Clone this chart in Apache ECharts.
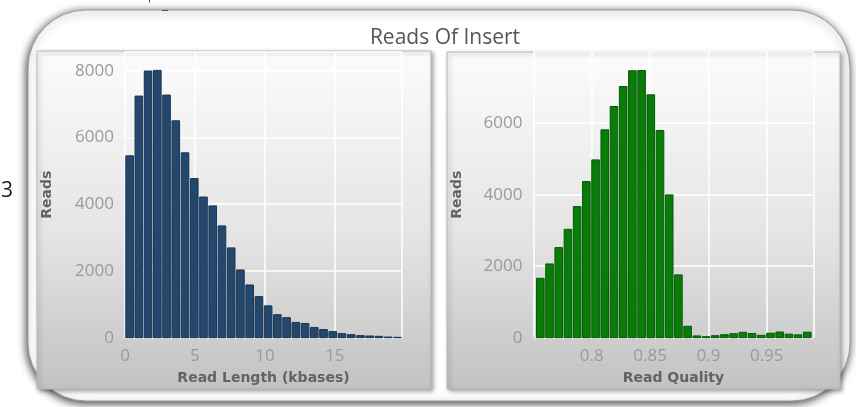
<!DOCTYPE html>
<html>
<head>
<meta charset="utf-8">
<script src="https://cdn.jsdelivr.net/npm/echarts@6/dist/echarts.min.js"></script>
<style>
html,body{margin:0;padding:0;background:#fff;}
#c{width:856px;height:407px;}
</style>
</head>
<body>
<div id="c"></div>
<script>
// ---- data ----
const chartTitle = 'Reads Of Insert';
const lengthAxisName = 'Read Length (kbases)';
const qualityAxisName = 'Read Quality';
const yAxisName = 'Reads';
const lengthStart = 0;
const lengthBinWidth = 0.66;
const lengthCounts = [5450, 7240, 7990, 8010, 7270, 6500, 5540, 4770, 4215, 3950,
                      3350, 2690, 2030, 1580, 1230, 955, 690, 600, 457, 426,
                      305, 244, 183, 122, 91, 61, 51, 41, 20, 10];
const qualityStart = 0.752;
const qualityBinWidth = 0.00789;
const qualityCounts = [1661, 2063, 2520, 3033, 3668, 4368, 4974, 5814, 6468, 7027,
                       7466, 7475, 6794, 5796, 3994, 1757, 320, 50, 28, 56,
                       84, 112, 150, 115, 65, 125, 159, 100, 80, 155];
const lengthTicks = [0, 5, 10, 15];
const qualityTicks = [0.8, 0.85, 0.9, 0.95];
const readsTicks = [0, 2000, 4000, 6000, 8000];

// ---- build ----
function bins(start, width, counts) {
  return counts.map((v, i) => [start + i * width, start + (i + 1) * width, v]);
}
function renderer(fill, stroke) {
  return function (params, api) {
    const a = api.coord([api.value(0), api.value(2)]);
    const b = api.coord([api.value(1), 0]);
    return {
      type: 'rect',
      shape: { x: a[0] + 0.8, y: a[1], width: Math.max(1, b[0] - a[0] - 1.6), height: b[1] - a[1] },
      style: { fill: fill, stroke: stroke, lineWidth: 1 }
    };
  };
}
const tickFont = { color: '#9a9a9a', fontSize: 17, fontFamily: 'Open Sans' };
const nameFont = { color: '#66625e', fontSize: 14, fontWeight: 'bold', fontFamily: 'DejaVu Sans' };
const gridLine = { show: true, lineStyle: { color: '#ffffff', width: 1.5 } };

function panel(x, y, w, h) {
  return {
    type: 'rect', silent: true, z: -10,
    shape: { x: x, y: y, width: w, height: h },
    style: {
      fill: { type: 'linear', x: 0, y: 0, x2: 0, y2: 1,
        colorStops: [{ offset: 0, color: '#fcfcfc' }, { offset: 0.55, color: '#e4e4e4' }, { offset: 1, color: '#c2c2c2' }] },
      stroke: '#b8b8b8', lineWidth: 1,
      shadowBlur: 4, shadowColor: 'rgba(0,0,0,0.35)', shadowOffsetX: 2, shadowOffsetY: 2
    }
  };
}

const chart = echarts.init(document.getElementById('c'), null, { renderer: 'canvas' });
chart.setOption({
  animation: false,
  backgroundColor: '#ffffff',
  title: {
    text: chartTitle, left: 440, top: 23, textAlign: 'center',
    textStyle: { color: '#555555', fontSize: 21, fontWeight: 'normal', fontFamily: 'Open Sans' }
  },
  graphic: [
    { type: 'rect', silent: true, z: -20,
      shape: { x: 28, y: 10, width: 822, height: 391, r: 58 },
      style: { fill: '#ffffff', stroke: '#9a9a9a', lineWidth: 1,
        shadowBlur: 9, shadowColor: 'rgba(0,0,0,0.75)', shadowOffsetX: -1, shadowOffsetY: 2 } },
    panel(37, 51, 394, 338),
    panel(447, 52, 393, 337),
    { type: 'text', silent: true, left: 1, top: 181, z: 5,
      style: { text: '3', fill: '#222', font: '21px "Open Sans"' } },
    { type: 'text', silent: true, left: 148, top: -2, z: 5,
      style: { text: "'   _", fill: '#444', font: '14px "Open Sans"' } }
  ],
  grid: [
    { left: 125, right: 454, top: 51.7, bottom: 69.3 },
    { left: 533.4, right: 42.6, top: 51.7, bottom: 69.3 }
  ],
  xAxis: [
    { gridIndex: 0, type: 'value', min: 0, max: 19.8, interval: 5,
      name: lengthAxisName, nameLocation: 'middle', nameGap: 34, nameTextStyle: nameFont,
      axisLine: { show: true, lineStyle: { color: '#d0d0d0' } }, axisTick: { show: false },
      axisLabel: Object.assign({ margin: 10, showMaxLabel: false,
        formatter: v => lengthTicks.includes(v) ? String(v) : '' }, tickFont),
      splitLine: gridLine },
    { gridIndex: 1, type: 'value', min: 0.75, max: 0.99, interval: 0.05,
      name: qualityAxisName, nameLocation: 'middle', nameGap: 34, nameTextStyle: nameFont,
      axisLine: { show: true, lineStyle: { color: '#d0d0d0' } }, axisTick: { show: false },
      axisLabel: Object.assign({ margin: 10, showMinLabel: false, showMaxLabel: false,
        formatter: v => { const t = qualityTicks.find(q => Math.abs(q - v) < 1e-6); return t === undefined ? '' : String(t); } }, tickFont),
      splitLine: gridLine }
  ],
  yAxis: [
    { gridIndex: 0, type: 'value', min: 0, max: 8570, interval: 2000,
      name: yAxisName, nameLocation: 'middle', nameGap: 71, nameRotate: 90, nameTextStyle: nameFont,
      axisLine: { show: false }, axisTick: { show: false },
      axisLabel: Object.assign({ margin: 11, showMaxLabel: false,
        formatter: v => readsTicks.includes(v) ? String(v) : '' }, tickFont),
      splitLine: gridLine },
    { gridIndex: 1, type: 'value', min: 0, max: 8000, interval: 2000,
      name: yAxisName, nameLocation: 'middle', nameGap: 69, nameRotate: 90, nameTextStyle: nameFont,
      axisLine: { show: false }, axisTick: { show: false },
      axisLabel: Object.assign({ margin: 11, showMaxLabel: false,
        formatter: v => readsTicks.includes(v) ? String(v) : '' }, tickFont),
      splitLine: gridLine }
  ],
  series: [
    { type: 'custom', xAxisIndex: 0, yAxisIndex: 0, silent: true,
      renderItem: renderer('#24486d', '#1a3654'),
      encode: { x: [0, 1], y: 2 },
      data: bins(lengthStart, lengthBinWidth, lengthCounts) },
    { type: 'custom', xAxisIndex: 1, yAxisIndex: 1, silent: true,
      renderItem: renderer('#0a7c0a', '#055a05'),
      encode: { x: [0, 1], y: 2 },
      data: bins(qualityStart, qualityBinWidth, qualityCounts) }
  ]
});
</script>
</body>
</html>
